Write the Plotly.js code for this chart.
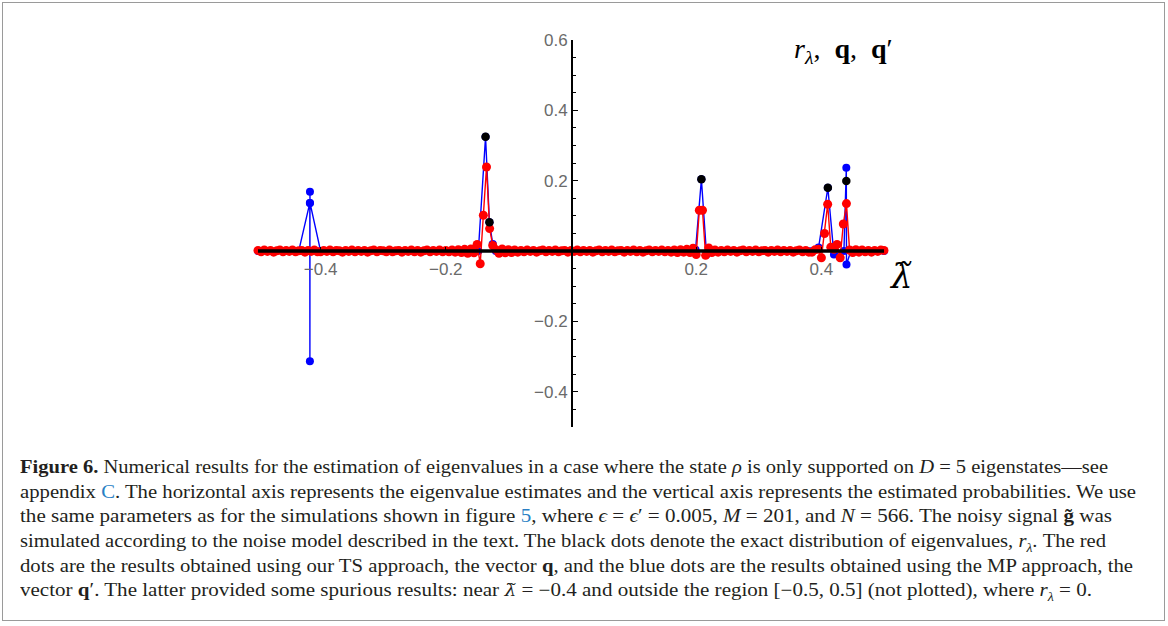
<!DOCTYPE html>
<html>
<head>
<meta charset="utf-8">
<script src="https://cdn.plot.ly/plotly-3.0.1.min.js"></script>
<style>
  html, body { margin:0; padding:0; background:#fff; }
  #wrap { position:relative; width:1168px; height:626px; overflow:hidden; background:#fff; }
  #chart { position:absolute; left:0; top:0; width:1168px; height:626px; }
  #frame { position:absolute; left:2px; top:2px; width:1161px; height:617px; border:1px solid #9a9a9a; pointer-events:none; }
  .cap { position:absolute; left:20px; white-space:nowrap; font-family:"Liberation Serif","Times New Roman",serif; font-size:18px; line-height:20px; color:#231f20; transform-origin:0 50%; }
  .cap .lk { color:#2a7fc4; }
  .cap sub { font-size:12px; line-height:0; }
  .cap .lt { font-family:"DejaVu Serif",serif; font-style:italic; font-size:16px; }
</style>
</head>
<body>
<div id="wrap">
  <div id="chart"></div>
  <div id="frame"></div>
  <div class="cap" data-w="1088" style="top:457px"><b>Figure 6.</b> Numerical results for the estimation of eigenvalues in a case where the state <i>ρ</i> is only supported on <i>D</i> = 5 eigenstates—see</div>
  <div class="cap" data-w="1116" style="top:482px">appendix <span class="lk">C</span>. The horizontal axis represents the eigenvalue estimates and the vertical axis represents the estimated probabilities. We use</div>
  <div class="cap" data-w="1092" style="top:506px">the same parameters as for the simulations shown in figure <span class="lk">5</span>, where <i>ϵ</i> = <i>ϵ</i>′ = 0.005, <i>M</i> = 201, and <i>N</i> = 566. The noisy signal <b>g̃</b> was</div>
  <div class="cap" data-w="1086" style="top:531px">simulated according to the noise model described in the text. The black dots denote the exact distribution of eigenvalues, <i>r</i><sub><i>λ</i></sub>. The red</div>
  <div class="cap" data-w="1113" style="top:556px">dots are the results obtained using our TS approach, the vector <b>q</b>, and the blue dots are the results obtained using the MP approach, the</div>
  <div class="cap" data-w="1072" style="top:580px">vector <b>q</b>′. The latter provided some spurious results: near <span class="lt">λ̃</span> = −0.4 and outside the region [−0.5, 0.5] (not plotted), where <i>r</i><sub><i>λ</i></sub> = 0.</div>
</div>
<script>
// ---- data ----
// eigenvalue grid: M = 201 points on [-0.5, 0.5]
const gridStart = -0.5;
const gridStep = 0.005;
const gridCount = 201;

// TS approach (vector q), red, one value per grid point
const redY = [
  0.002,-0.002,0.003,-0.001,0.002,-0.003,0.001,0.003,-0.002,0.002,
  -0.001,0.003,-0.002,0.001,0.002,-0.003,0.002,-0.001,0.003,-0.002,
  -0.002,0.002,-0.001,0.003,-0.002,0.002,0.001,-0.003,0.002,-0.001,
  0.003,-0.002,0.002,-0.001,0.002,-0.003,0.001,0.003,-0.002,0.002,
  0.001,-0.002,0.003,-0.002,0.001,0.002,-0.003,0.002,-0.001,0.003,
  -0.002,0.002,-0.003,0.001,0.003,-0.002,0.002,-0.001,0.003,-0.002,
  0.002,-0.002,0.003,-0.003,0.004,-0.004,0.005,-0.006,0.006,-0.005,
  0.019,-0.036,0.102,0.239,0.064,0.016,0.004,-0.006,0.006,-0.005,
  0.004,-0.004,0.003,-0.003,0.002,-0.002,0.003,-0.001,0.002,-0.003,
  0.001,0.003,-0.002,0.002,-0.001,0.003,-0.002,0.001,0.002,-0.003,
  0.002,-0.001,0.003,-0.002,0.002,-0.001,0.002,-0.003,0.001,0.003,
  -0.002,0.002,-0.001,0.003,-0.002,0.001,0.002,-0.003,0.002,-0.001,
  0.003,-0.002,0.002,-0.003,0.001,0.003,-0.002,0.002,-0.001,0.003,
  -0.002,0.002,-0.003,0.003,-0.004,0.004,-0.003,0.005,-0.004,0.008,
  -0.010,0.116,0.116,-0.012,0.009,-0.004,0.003,-0.003,0.002,-0.002,
  0.003,-0.001,0.002,-0.003,0.001,0.003,-0.002,0.002,-0.001,0.003,
  -0.002,0.001,0.002,-0.003,0.002,-0.001,0.003,-0.002,0.002,-0.001,
  0.002,-0.003,0.001,0.003,-0.002,0.002,-0.003,-0.003,0.004,0.005,
  -0.019,0.050,0.133,0.011,0.005,0.019,-0.019,0.077,0.135,0.003,
  -0.004,0.004,-0.003,0.003,-0.002,0.002,-0.003,0.002,-0.001,0.003,
  0.002
];

// MP approach (vector q'), blue
const blueX = [-0.5,-0.435,-0.4172,-0.4171,-0.4170,-0.4169,-0.40,-0.148,-0.1365,-0.1303,-0.125,-0.12,
               0.199,0.2083,0.2165,0.3955,0.4103,0.42,0.436,0.4398,0.4401,0.447,0.5];
const blueY = [0,0,0.137,-0.313,0.169,0.137,0,0,0.325,0.082,0.02,0,
               0.004,0.204,-0.01,0.01,0.180,-0.01,0,0.237,-0.038,0,0];

// exact distribution r_lambda, black
const blackX = [-0.1365,-0.1303,0.2083,0.4103,0.4398];
const blackY = [0.325,0.082,0.204,0.180,0.199];

// tick labels
const xTickVals = [-0.4,-0.2,0.2,0.4];
const xTickText = ['−0.4','−0.2','0.2','0.4'];
const yTickVals = [-0.4,-0.2,0.2,0.4,0.6];
const yTickText = ['−0.4','−0.2','0.2','0.4','0.6'];

// ---- build ----
const gridX = [];
for (let i = 0; i < gridCount; i++) gridX.push(+(gridStart + i*gridStep).toFixed(4));

const traces = [
  {x: blueX, y: blueY, mode:'lines+markers', cliponaxis:false,
   line:{color:'#0000ff', width:1.4}, marker:{color:'#0000ff', size:8}, hoverinfo:'skip'},
  {x: gridX, y: redY, mode:'lines+markers', cliponaxis:false,
   line:{color:'#ff0000', width:1.4}, marker:{color:'#ff0000', size:9}, hoverinfo:'skip'},
  {x: blackX, y: blackY, mode:'markers', cliponaxis:false,
   marker:{color:'#000000', size:8.5}, hoverinfo:'skip'}
];

const tickFont = {family:'"Liberation Sans", Arial, sans-serif', size:17, color:'#6a6a6a'};

const layout = {
  width:1168, height:626,
  margin:{l:258, r:284, t:40, b:199, pad:0},
  paper_bgcolor:'rgba(0,0,0,0)', plot_bgcolor:'rgba(0,0,0,0)',
  showlegend:false,
  xaxis:{range:[-0.5,0.5], anchor:'free', position:0.5/1.1, showline:false, zeroline:false, showgrid:false,
         tickmode:'array', tickvals:xTickVals, ticktext:xTickText, ticks:'inside', ticklen:4, tickcolor:'#000',
         ticklabelstandoff:6, tickfont:tickFont},
  yaxis:{range:[-0.5,0.6], anchor:'free', position:0.5, showline:true, linecolor:'#000', linewidth:1.5,
         zeroline:false, showgrid:false,
         tickmode:'array', tickvals:yTickVals, ticktext:yTickText, ticks:'inside', ticklen:5, tickcolor:'#000',
         tickfont:tickFont,
         minor:{tickmode:'linear', tick0:0, dtick:0.05, ticks:'inside', ticklen:3, tickcolor:'#000', showgrid:false}},
  shapes:[{type:'line', xref:'x', yref:'y', x0:-0.5, x1:0.5, y0:0, y1:0, layer:'above',
           line:{color:'#000', width:3.5}}],
  annotations:[
    {xref:'paper', yref:'paper', x:1.027, y:0.39, xanchor:'center', yanchor:'middle',
     text:'<i>λ̃</i>', showarrow:false,
     font:{family:'"DejaVu Serif",serif', size:34, color:'#000'}},
    {xref:'paper', yref:'paper', x:0.935, y:0.972, xanchor:'center', yanchor:'middle',
     text:'<i>r</i><sub><i>λ</i></sub>,  <b>q</b>,  <b>q</b>′', showarrow:false,
     font:{family:'"Liberation Serif","DejaVu Serif",serif', size:28, color:'#000'}}
  ]
};

Plotly.newPlot('chart', traces, layout, {staticPlot:true, displayModeBar:false});

document.querySelectorAll('.cap').forEach(function(el){
  const w = el.getBoundingClientRect().width;
  const target = +el.getAttribute('data-w');
  el.style.transform = 'scaleX(' + (target / w) + ')';
});
</script>
</body>
</html>
